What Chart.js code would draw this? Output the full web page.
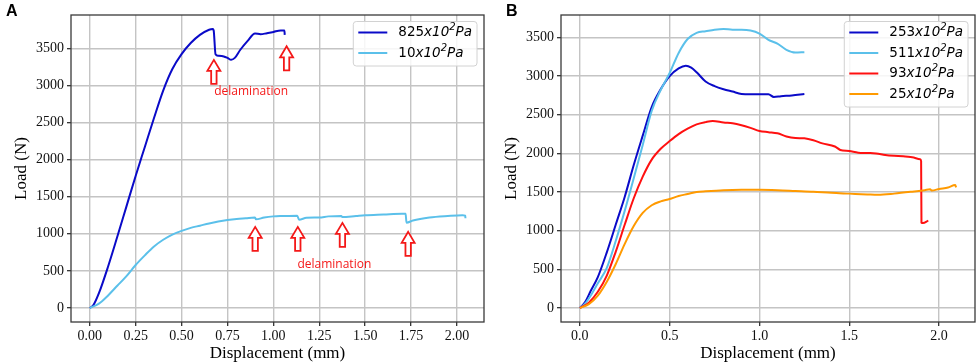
<!DOCTYPE html>
<html>
<head>
<meta charset="utf-8">
<script src="https://cdn.jsdelivr.net/npm/chart.js@4.4.1/dist/chart.umd.min.js"></script>
<style>
html, body { margin: 0; padding: 0; background: #fff; }
#wrap { position: relative; width: 976px; height: 364px; overflow: hidden; }
canvas { position: absolute; top: 0; }
#chart-a { left: 0; }
#chart-b { left: 486px; }
.tag { position: absolute; top: 3px; font: bold 16px "Liberation Sans", Arial, sans-serif; line-height: 16px; color: #000; }
</style>
</head>
<body>
<div id="wrap">
  <canvas id="chart-a" width="486" height="364"></canvas>
  <canvas id="chart-b" width="490" height="364"></canvas>
  <div class="tag" style="left:6px">A</div>
  <div class="tag" style="left:506px">B</div>
</div>
<script>
// panel A : 825x10^2 Pa
const dispA825 = [0, 0.02, 0.05, 0.1, 0.15, 0.2, 0.25, 0.3, 0.35, 0.4, 0.45, 0.5, 0.55, 0.6, 0.65, 0.67, 0.675, 0.685, 0.7, 0.73, 0.75, 0.77, 0.79, 0.82, 0.86, 0.9, 0.93, 0.96, 1.0, 1.04, 1.06, 1.062];
const loadA825 = [0, 40, 200, 560, 960, 1370, 1780, 2170, 2560, 2930, 3220, 3420, 3570, 3680, 3750, 3760, 3740, 3420, 3400, 3390, 3370, 3345, 3370, 3480, 3600, 3700, 3690, 3700, 3720, 3740, 3740, 3680];
// panel A : 10x10^2 Pa
const dispA10 = [0, 0.05, 0.1, 0.15, 0.2, 0.25, 0.3, 0.35, 0.4, 0.45, 0.5, 0.55, 0.6, 0.65, 0.7, 0.75, 0.8, 0.85, 0.9, 0.905, 0.95, 1.0, 1.05, 1.13, 1.14, 1.18, 1.25, 1.3, 1.37, 1.375, 1.45, 1.5, 1.6, 1.7, 1.72, 1.725, 1.76, 1.85, 1.95, 2.03, 2.045, 2.046];
const loadA10 = [0, 60, 170, 300, 430, 580, 710, 830, 920, 990, 1040, 1080, 1110, 1140, 1165, 1185, 1200, 1210, 1220, 1195, 1220, 1235, 1240, 1245, 1190, 1215, 1220, 1235, 1240, 1225, 1240, 1250, 1260, 1270, 1270, 1150, 1180, 1220, 1240, 1250, 1245, 1210];

// panel B
const dispB253 = [0, 0.03, 0.06, 0.1, 0.15, 0.2, 0.25, 0.3, 0.35, 0.4, 0.45, 0.5, 0.55, 0.59, 0.62, 0.65, 0.7, 0.75, 0.8, 0.85, 0.9, 0.95, 1.0, 1.05, 1.08, 1.12, 1.18, 1.25];
const loadB253 = [0, 80, 220, 400, 720, 1080, 1440, 1850, 2230, 2600, 2830, 3000, 3100, 3135, 3110, 3050, 2930, 2870, 2830, 2800, 2770, 2765, 2765, 2765, 2730, 2740, 2750, 2770];
const dispB511 = [0, 0.03, 0.06, 0.1, 0.15, 0.2, 0.25, 0.3, 0.35, 0.4, 0.45, 0.5, 0.55, 0.6, 0.65, 0.7, 0.75, 0.8, 0.85, 0.9, 0.95, 1.0, 1.05, 1.1, 1.15, 1.2, 1.25];
const loadB511 = [0, 60, 160, 320, 520, 870, 1260, 1680, 2110, 2550, 2820, 3040, 3300, 3480, 3560, 3580, 3600, 3610, 3600, 3600, 3590, 3550, 3470, 3420, 3340, 3305, 3310];
const dispB93 = [0, 0.05, 0.1, 0.15, 0.2, 0.25, 0.3, 0.35, 0.4, 0.45, 0.5, 0.55, 0.6, 0.65, 0.7, 0.74, 0.8, 0.85, 0.9, 0.95, 1.0, 1.05, 1.1, 1.15, 1.2, 1.25, 1.3, 1.35, 1.42, 1.45, 1.5, 1.55, 1.6, 1.65, 1.7, 1.75, 1.8, 1.85, 1.895, 1.9, 1.902, 1.91, 1.94];
const loadB93 = [0, 70, 210, 420, 730, 1080, 1420, 1700, 1920, 2060, 2160, 2250, 2320, 2375, 2405, 2420, 2400, 2390, 2365, 2330, 2290, 2275, 2260, 2220, 2200, 2195, 2170, 2130, 2090, 2045, 2030, 2010, 2005, 2000, 1980, 1970, 1965, 1950, 1925, 1900, 1105, 1100, 1130];
const dispB25 = [0, 0.05, 0.1, 0.15, 0.2, 0.25, 0.3, 0.35, 0.4, 0.45, 0.5, 0.55, 0.6, 0.65, 0.7, 0.8, 0.9, 1.0, 1.1, 1.2, 1.3, 1.4, 1.5, 1.6, 1.66, 1.75, 1.85, 1.92, 1.95, 1.96, 2.0, 2.05, 2.09, 2.095];
const loadB25 = [0, 50, 160, 340, 570, 830, 1060, 1230, 1330, 1380, 1410, 1450, 1475, 1500, 1510, 1525, 1530, 1530, 1525, 1515, 1505, 1490, 1480, 1470, 1465, 1480, 1505, 1525, 1535, 1520, 1540, 1560, 1590, 1560];

// ticks
const xTicksA = [0, 0.25, 0.5, 0.75, 1.0, 1.25, 1.5, 1.75, 2.0];
const xTicksB = [0, 0.5, 1.0, 1.5, 2.0];
const yTicks = [0, 500, 1000, 1500, 2000, 2500, 3000, 3500];

// delamination arrows (tip position) and notes, panel A
const arrowX = [0.676, 1.072, 0.901, 1.133, 1.376, 1.734];
const arrowY = [3343, 3526, 1093, 1093, 1147, 1026];
const noteX = [0.879, 1.332];
const noteY = [2917, 587];
const noteText = ['delamination', 'delamination'];

const pts = (xs, ys) => xs.map((x, i) => ({x, y: ys[i]}));

const serif = '"Liberation Serif", "Times New Roman", serif';

//draw "825x10²Pa" in pieces, returns the width
const drawLabel = (ctx, num, x, y, draw) => {
    const parts = [
        [num, '13.5px "DejaVu Sans"', 0],
        ['x10', 'italic 13.5px "DejaVu Sans"', 0],
        ['2', 'italic 10px "DejaVu Sans"', -5],
        ['Pa', 'italic 13.5px "DejaVu Sans"', 0],
    ];
    let w = 0;
    ctx.textBaseline = 'middle';
    ctx.textAlign = 'left';
    ctx.fillStyle = '#000';
    for (const [t, f, dy] of parts) {
        ctx.font = f;
        if (draw) ctx.fillText(t, x + w, y + dy);
        w += ctx.measureText(t).width;
    }
    return w;
}

const boxLegend = {
    id: 'boxLegend',
    afterDraw(chart) {
        const {ctx, chartArea} = chart;
        const sets = chart.data.datasets;
        const rowH = 20.5;
        ctx.save();
        const textW = Math.max(...sets.map(ds => drawLabel(ctx, ds.label, 0, 0, false)));
        const w = 45 + textW + 5;
        const h = 11 + (sets.length - 1) * rowH + 13;
        const left = chartArea.right - 7 - w;
        const top = chartArea.top + 6.5;
        ctx.beginPath();
        ctx.roundRect(left, top, w, h, 3);
        ctx.fillStyle = 'rgba(255,255,255,0.85)';
        ctx.fill();
        ctx.strokeStyle = '#d2d2d2';
        ctx.lineWidth = 1;
        ctx.stroke();
        sets.forEach((ds, i) => {
            const cy = top + 11 + i * rowH;
            ctx.strokeStyle = ds.borderColor;
            ctx.lineWidth = 2;
            ctx.beginPath();
            ctx.moveTo(left + 5, cy);
            ctx.lineTo(left + 34, cy);
            ctx.stroke();
            drawLabel(ctx, ds.label, left + 45, cy, true);
        });
        ctx.restore();
    }
};

//frame round the plot area
const frame = {
    id: 'frame',
    afterDatasetsDraw(chart) {
        const {ctx, chartArea: a} = chart;
        ctx.save();
        ctx.strokeStyle = '#3a3a3a';
        ctx.lineWidth = 1.3;
        ctx.strokeRect(a.left, a.top, a.right - a.left, a.bottom - a.top);
        ctx.restore();
    }
};

//red hollow arrows + notes
const arrows = {
    id: 'arrows',
    afterDatasetsDraw(chart) {
        const {ctx, scales: {x, y}} = chart;
        ctx.save();
        ctx.strokeStyle = '#f41818';
        ctx.fillStyle = '#fff';
        ctx.lineWidth = 1.8;
        arrowX.forEach((ax, i) => {
            const px = x.getPixelForValue(ax);
            const py = y.getPixelForValue(arrowY[i]);
            ctx.beginPath();
            ctx.moveTo(px, py);
            ctx.lineTo(px + 6.5, py + 11);
            ctx.lineTo(px + 2.7, py + 11);
            ctx.lineTo(px + 2.7, py + 24);
            ctx.lineTo(px - 2.7, py + 24);
            ctx.lineTo(px - 2.7, py + 11);
            ctx.lineTo(px - 6.5, py + 11);
            ctx.closePath();
            ctx.fill();
            ctx.stroke();
        });
        ctx.fillStyle = '#f41818';
        ctx.font = '12px "Open Sans"';
        ctx.textAlign = 'center';
        ctx.textBaseline = 'middle';
        noteX.forEach((nx, i) => {
            ctx.fillText(noteText[i], x.getPixelForValue(nx), y.getPixelForValue(noteY[i]));
        });
        ctx.restore();
    }
};

const makeScale = (min, max, ticks, fmt, title, size, titlePad) => ({
    type: 'linear',
    min,
    max,
    afterBuildTicks: (scale) => { scale.ticks = ticks.map(v => ({value: v})); },
    afterFit: (scale) => { size.w ? scale.width = size.w : scale.height = size.h; },
    grid: {
        color: '#c4c4c4',
        lineWidth: 1.4,
        tickColor: '#222',
        tickWidth: 1.2,
        tickLength: 4,
    },
    border: { display: false },
    ticks: {
        color: '#111',
        font: { family: serif, size: 14 },
        padding: size.w ? 3 : 2,
        maxRotation: 0,
        autoSkip: false,
        callback: fmt,
    },
    title: {
        display: true,
        text: title,
        color: '#000',
        font: { family: serif, size: 17, lineHeight: 1.2 },
        padding: titlePad,
    },
});

const makeChart = (id, datasets, xr, yr, xTicks, xFmt, yW, yTitlePad, extra, padRight) => {
    return new Chart(document.getElementById(id), {
        type: 'line',
        data: { datasets },
        options: {
            responsive: false,
            animation: false,
            devicePixelRatio: 1,
            layout: { padding: { top: 15, right: padRight, bottom: 0, left: 0 } },
            elements: { point: { radius: 0 }, line: { borderWidth: 2, cubicInterpolationMode: 'monotone' } },
            scales: {
                x: makeScale(xr[0], xr[1], xTicks, xFmt, 'Displacement (mm)', {h: 42}, {top: 0, bottom: 0}),
                y: makeScale(yr[0], yr[1], yTicks, v => String(v), 'Load (N)', {w: yW}, yTitlePad),
            },
            plugins: { legend: { display: false }, tooltip: { enabled: false } },
        },
        plugins: [frame, boxLegend, ...extra],
    });
}

const line = (label, xs, ys, color, order) => ({
    label, data: pts(xs, ys), borderColor: color, backgroundColor: color,
    borderWidth: 2, fill: false, order,
});

makeChart('chart-a', [
    line('825', dispA825, loadA825, '#0a0ac8', 2),
    line('10', dispA10, loadA10, '#5bc0ea', 1),
], [-0.102, 2.147], [-188, 3948], xTicksA, v => v.toFixed(2), 71, {top: 11.5, bottom: 0}, [arrows], 2);

makeChart('chart-b', [
    line('253', dispB253, loadB253, '#0a0ac8', 4),
    line('511', dispB511, loadB511, '#5bc0ea', 3),
    line('93', dispB93, loadB93, '#ff1010', 2),
    line('25', dispB25, loadB25, '#ff9a00', 1),
], [-0.105, 2.2], [-180.5, 3790.5], xTicksB, v => v.toFixed(1), 75, {top: 15.5, bottom: 0}, [], 1);
</script>
</body>
</html>
